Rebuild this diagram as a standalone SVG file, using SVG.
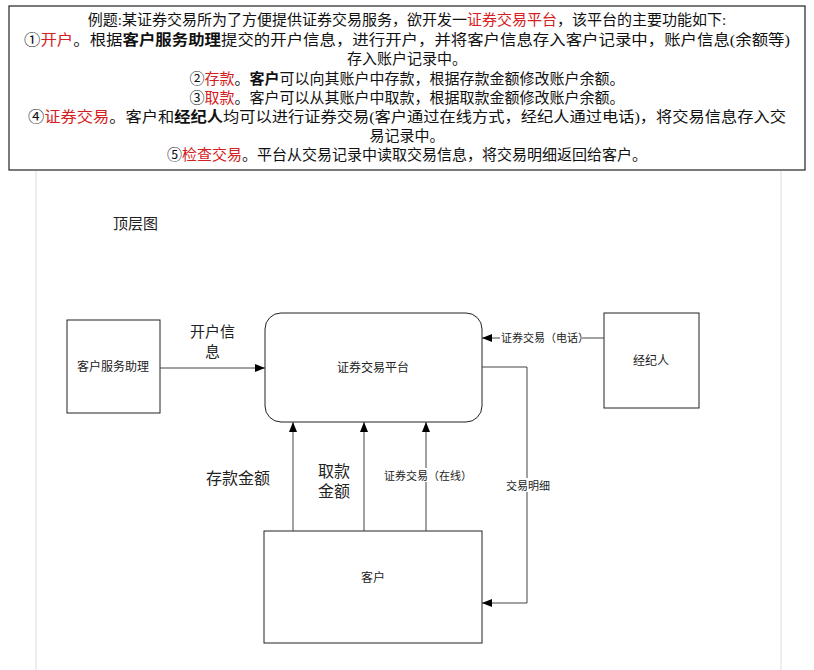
<svg xmlns="http://www.w3.org/2000/svg" width="814" height="670" viewBox="0 0 814 670">
<defs>
<marker id="ah" markerWidth="10" markerHeight="8" refX="10" refY="4" orient="auto" markerUnits="userSpaceOnUse"><path d="M0,0 L10,4 L0,8 z" fill="#000"/></marker>
<style>
.h{font-family:"Liberation Serif","Noto Sans CJK SC",serif;font-size:15px;text-anchor:middle;fill:#111}
.r{fill:#d42020}
.b{font-weight:bold}
.n{fill:#fff;stroke:#222;stroke-width:1}
.t{font-family:"Liberation Sans","Noto Sans CJK SC",sans-serif;fill:#222}
.c{stroke:#444;stroke-width:1;fill:none}
</style>
</defs>
<rect width="814" height="670" fill="#fff"/>
<line x1="36" y1="171" x2="36" y2="670" stroke="#ddd"/>
<line x1="781" y1="171" x2="781" y2="670" stroke="#ddd"/>
<g id="header">
<rect x="9" y="6" width="796" height="164" fill="#fff" stroke="#222" stroke-width="1.2"/>
<text class="h" x="407" y="25">例题:某证券交易所为了方便提供证券交易服务，欲开发一<tspan class="r">证券交易平台</tspan>，该平台的主要功能如下:</text>
<text class="h" x="407" y="45" textLength="766" lengthAdjust="spacingAndGlyphs">①<tspan class="r">开户</tspan>。根据<tspan class="b">客户服务助理</tspan>提交的开户信息，进行开户，并将客户信息存入客户记录中，账户信息(余额等)</text>
<text class="h" x="407" y="64">存入账户记录中。</text>
<text class="h" x="407" y="84">②<tspan class="r">存款</tspan>。<tspan class="b">客户</tspan>可以向其账户中存款，根据存款金额修改账户余额。</text>
<text class="h" x="407" y="103">③<tspan class="r">取款</tspan>。客户可以从其账户中取款，根据取款金额修改账户余额。</text>
<text class="h" x="407" y="122" textLength="758" lengthAdjust="spacingAndGlyphs">④<tspan class="r">证券交易</tspan>。客户和<tspan class="b">经纪人</tspan>均可以进行证券交易(客户通过在线方式，经纪人通过电话)，将交易信息存入交</text>
<text class="h" x="407" y="141">易记录中。</text>
<text class="h" x="407" y="160">⑤<tspan class="r">检查交易</tspan>。平台从交易记录中读取交易信息，将交易明细返回给客户。</text>
</g>
<text class="t" x="113" y="229" font-size="15">顶层图</text>
<g id="platform"><rect class="n" x="265" y="313" width="217" height="109" rx="16"/><text class="t" x="373" y="372" font-size="12" text-anchor="middle">证券交易平台</text></g>
<g id="assistant"><rect class="n" x="67" y="320" width="93" height="93"/><text class="t" x="113" y="371" font-size="12" text-anchor="middle">客户服务助理</text></g>
<g id="broker"><rect class="n" x="604" y="313" width="95" height="95"/><text class="t" x="651" y="365" font-size="12" text-anchor="middle">经纪人</text></g>
<g id="customer"><rect class="n" x="264" y="531" width="218" height="112"/><text class="t" x="373" y="582" font-size="12" text-anchor="middle">客户</text></g>
<g id="connectors">
<line class="c" x1="160" y1="368" x2="265" y2="368" marker-end="url(#ah)"/>
<line class="c" x1="604" y1="338" x2="482" y2="338" marker-end="url(#ah)"/>
<line class="c" x1="293" y1="531" x2="293" y2="422" marker-end="url(#ah)"/>
<line class="c" x1="364" y1="531" x2="364" y2="422" marker-end="url(#ah)"/>
<line class="c" x1="426" y1="531" x2="426" y2="422" marker-end="url(#ah)"/>
<polyline class="c" points="482,367 527,367 527,603 482,603" marker-end="url(#ah)"/>
</g>
<g id="labels">
<rect x="500" y="330" width="82" height="16" fill="#fff"/>
<text class="t" x="501" y="342" font-size="11">证券交易（电话）</text>
<text class="t" x="190" y="337" font-size="15">开户信</text>
<text class="t" x="205" y="357" font-size="15">息</text>
<text class="t" x="206" y="484" font-size="16">存款金额</text>
<text class="t" x="318" y="477" font-size="16">取款</text>
<text class="t" x="318" y="497" font-size="16">金额</text>
<rect x="384" y="468" width="80" height="14" fill="#fff"/>
<text class="t" x="384" y="480" font-size="11">证券交易（在线）</text>
<rect x="505" y="478" width="46" height="14" fill="#fff"/>
<text class="t" x="506" y="490" font-size="11">交易明细</text>
</g>
</svg>
